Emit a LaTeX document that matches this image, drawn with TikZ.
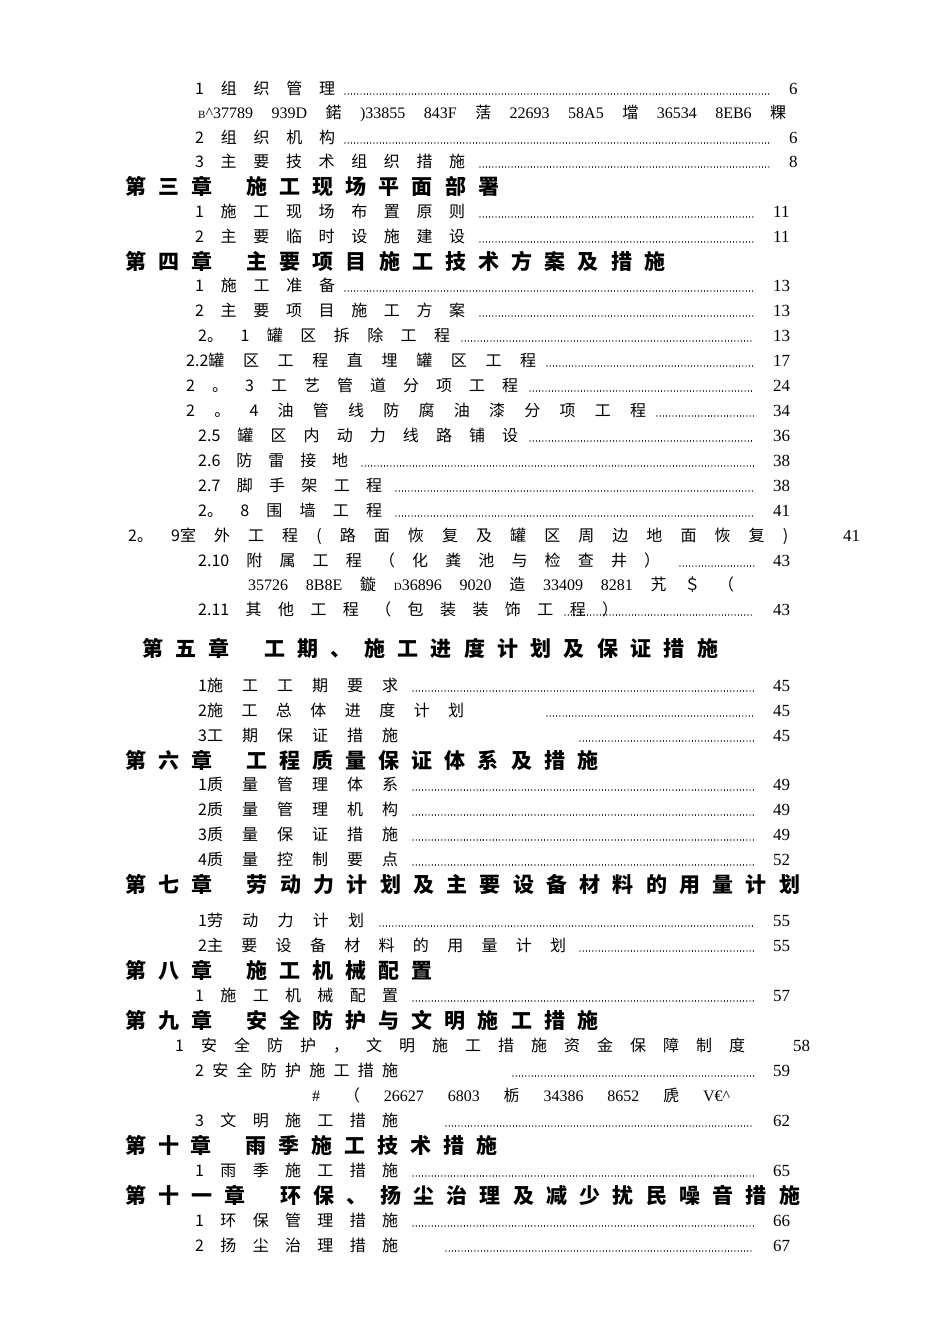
\documentclass[tikz,border=0pt]{standalone}
\usepackage{fontspec}
\setmainfont{Liberation Serif}
\newfontfamily\cj{Noto Sans CJK SC}
\tikzset{txt/.style={anchor=base west,inner sep=0pt,font=\fontsize{16}{16}\cj},
 hd/.style={anchor=base west,inner sep=0pt,font=\fontsize{21}{21}\cj\bfseries},
 num/.style={anchor=base west,inner sep=0pt,font=\fontsize{17}{17}\selectfont},
 dots/.style={line width=1.1pt,dash pattern=on 0.01pt off 3.2pt,line cap=round}}
\newcommand\EN[7]{%
 \node[txt] (t#2) at (#3,#2+6) {\makebox[#4pt][s]{#5}};
 \coordinate (a#2) at (#6,#2+6); \coordinate (b#2) at (#1,#2+6);
 \draw[dots] (a#2) -- (b#2);
 \node[num] (n#2) at (#1+19,#2+6) {#7};}
\newcommand\HD[4]{\node[hd] (h#1) at (#2,#1+8) {\makebox[#3pt][s]{#4}};}
\begin{document}
\begin{tikzpicture}[x=1pt,y=-1pt]
\useasboundingbox (0,0) rectangle (950,1344);
\fill[white] (0,0) rectangle (950,1344);
\EN{770}{88}{195}{140}{1 组 织 管 理}{345}{6}
\node[num,font=\fontsize{16}{16}\selectfont] (g1) at (198,118) {\makebox[588pt][s]{{\fontsize{11}{11}\selectfont B}\^{}37789 939D {\cj 鍩} )33855 843F {\cj 萿} 22693 58A5 {\cj 壋} 36534 8EB6 {\cj 粿}}};
\EN{770}{137}{195}{140}{2 组 织 机 构}{345}{6}
\EN{770}{161}{195}{270}{3 主 要 技 术 组 织 措 施}{480}{8}
\HD{186}{125}{374}{第 三 章\hspace{22pt} 施 工 现 场 平 面 部 署}
\EN{754}{211}{195}{270}{1 施 工 现 场 布 置 原 则}{480}{11}
\EN{754}{236}{195}{270}{2 主 要 临 时 设 施 建 设}{480}{11}
\HD{261}{125}{540}{第 四 章\hspace{22pt} 主 要 项 目 施 工 技 术 方 案 及 措 施}
\EN{754}{285}{195}{140}{1 施 工 准 备}{345}{13}
\EN{754}{310}{195}{270}{2 主 要 项 目 施 工 方 案}{480}{13}
\EN{754}{335}{198}{252}{2。 1 罐 区 拆 除 工 程}{462}{13}
\EN{754}{360}{186}{350}{2.2罐 区 工 程 直 埋 罐 区 工 程}{547}{17}
\EN{754}{385}{186}{332}{2 。 3 工 艺 管 道 分 项 工 程}{530}{24}
\EN{754}{410}{186}{460}{2 。 4 油 管 线 防 腐 油 漆 分 项 工 程}{657}{34}
\EN{754}{435}{198}{320}{2.5 罐 区 内 动 力 线 路 铺 设}{530}{36}
\EN{754}{460}{198}{150}{2.6 防 雷 接 地}{362}{38}
\EN{754}{485}{198}{184}{2.7 脚 手 架 工 程}{396}{38}
\EN{754}{510}{198}{184}{2。 8 围 墙 工 程}{396}{41}
\node[txt] (t535) at (128,541) {\makebox[660pt][s]{2。 9室 外 工 程 ( 路 面 恢 复 及 罐 区 周 边 地 面 恢 复 )}};
\node[num] (n535) at (843,541) {41};
\EN{754}{560}{198}{462}{2.10 附 属 工 程 （ 化 粪 池 与 检 查 井 ）}{680}{43}
\node[num,font=\fontsize{16}{16}\selectfont] (g2) at (248,590) {\makebox[486pt][s]{35726 8B8E {\cj 鏇} {\fontsize{11}{11}\selectfont D}36896 9020 {\cj 造} 33409 8281 {\cj 艽} {\cj ＄} {\cj （}}};
\EN{754}{609}{198}{420}{2.11 其 他 工 程 （ 包 装 装 饰 工 程 ）}{565}{43}
\HD{648}{142}{576}{第 五 章\hspace{22pt} 工 期 、 施 工 进 度 计 划 及 保 证 措 施}
\EN{754}{685}{198}{200}{1施 工 工 期 要 求}{413}{45}
\EN{754}{710}{198}{266}{2施 工 总 体 进 度 计 划}{547}{45}
\EN{754}{735}{198}{200}{3工 期 保 证 措 施}{580}{45}
\HD{760}{125}{473}{第 六 章\hspace{22pt} 工 程 质 量 保 证 体 系 及 措 施}
\EN{754}{784}{198}{200}{1质 量 管 理 体 系}{413}{49}
\EN{754}{809}{198}{200}{2质 量 管 理 机 构}{413}{49}
\EN{754}{834}{198}{200}{3质 量 保 证 措 施}{413}{49}
\EN{754}{859}{198}{200}{4质 量 控 制 要 点}{413}{52}
\HD{884}{125}{675}{第 七 章\hspace{22pt} 劳 动 力 计 划 及 主 要 设 备 材 料 的 用 量 计 划}
\EN{754}{920}{198}{166}{1劳 动 力 计 划}{380}{55}
\EN{754}{945}{198}{368}{2主 要 设 备 材 料 的 用 量 计 划}{580}{55}
\HD{970}{125}{307}{第 八 章\hspace{22pt} 施 工 机 械 配 置}
\EN{754}{995}{195}{203}{1 施 工 机 械 配 置}{413}{57}
\HD{1020}{125}{473}{第 九 章\hspace{22pt} 安 全 防 护 与 文 明 施 工 措 施}
\node[txt] (t1045) at (175,1051) {\makebox[570pt][s]{1 安 全 防 护 ， 文 明 施 工 措 施 资 金 保 障 制 度}};
\node[num] (n1045) at (793,1051) {58};
\EN{754}{1070}{195}{203}{2 安 全 防 护 施 工 措 施}{513}{59}
\node[num,font=\fontsize{16}{16}\selectfont] (g3) at (312,1101) {\makebox[418pt][s]{\# {\cj （} 26627 6803 {\cj 栃} 34386 8652 {\cj 虒} V€\^{}}};
\EN{754}{1120}{195}{203}{3 文 明 施 工 措 施}{446}{62}
\HD{1145}{125}{372}{第 十 章\hspace{22pt} 雨 季 施 工 技 术 措 施}
\EN{754}{1170}{195}{203}{1 雨 季 施 工 措 施}{413}{65}
\HD{1195}{125}{675}{第 十 一 章\hspace{22pt} 环 保 、 扬 尘 治 理 及 减 少 扰 民 噪 音 措 施}
\EN{754}{1220}{195}{203}{1 环 保 管 理 措 施}{413}{66}
\EN{754}{1245}{195}{203}{2 扬 尘 治 理 措 施}{446}{67}
\end{tikzpicture}
\end{document}
